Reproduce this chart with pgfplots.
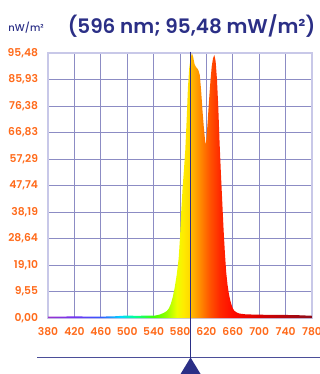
\documentclass[border=0pt]{standalone}
\usepackage{fontspec}
\setmainfont{Poppins}
\newfontfamily\medfont{Poppins Medium}
\newfontfamily\sbfont{Poppins SemiBold}
\usepackage{pgfplots}
\pgfplotsset{compat=1.18}
\definecolor{navy}{RGB}{43,47,134}
\definecolor{tickorange}{RGB}{255,106,26}
\definecolor{gridc}{RGB}{140,140,196}
\definecolor{framec}{RGB}{200,200,232}
\pgfdeclarehorizontalshading{spectrum}{100bp}{%
rgb(0bp)=(0.6,0.2,0.8);
rgb(25bp)=(0.6,0.2,0.8);
rgb(30bp)=(0.45,0.2,0.95);
rgb(35bp)=(0.2,0.35,1);
rgb(38.75bp)=(0,0.85,1);
rgb(41.25bp)=(0,1,0.6);
rgb(45bp)=(0.25,1,0);
rgb(47.5bp)=(0.6,1,0);
rgb(49.375bp)=(0.93,1,0);
rgb(50.625bp)=(1,0.92,0);
rgb(51.875bp)=(1,0.85,0);
rgb(52.125bp)=(1,0.72,0);
rgb(53.75bp)=(1,0.55,0);
rgb(55.625bp)=(1,0.33,0);
rgb(57.5bp)=(1,0.16,0);
rgb(60bp)=(1,0.04,0);
rgb(65bp)=(0.85,0,0);
rgb(75bp)=(0.55,0.05,0.1);
rgb(100bp)=(0.55,0.05,0.1)}
\begin{document}
\begin{tikzpicture}
\useasboundingbox (0,0) rectangle (320bp,374bp);
\begin{axis}[
  at={(48bp,56bp)}, anchor=south west,
  scale only axis, width=264bp, height=265bp,
  xmin=380, xmax=780, ymin=0, ymax=95.48,
  xtick={380,420,...,780},
  xticklabels={380,420,460,500,540,580,620,660,700,740,780},
  ytick={0,9.548,19.096,28.644,38.192,47.74,57.288,66.836,76.384,85.932,95.48},
  yticklabels={{0,00},{9,55},{19,10},{28,64},{38,19},{47,74},{57,29},{66,83},{76,38},{85,93},{95,48}},
  grid=major,
  major grid style={draw=gridc, line width=0.7bp},
  axis line style={draw=framec, line width=1.2bp},
  major tick length=0pt,
  tick style={draw=none},
  tick label style={font=\sbfont\fontsize{10.8}{13}\selectfont, text=tickorange},
  yticklabel style={inner sep=0pt, xshift=-9.7bp},
  xticklabel style={inner sep=0pt, yshift=-9bp},
  clip=false,
  axis on top=false,
]
\addplot[draw=none, shade, shading=spectrum] coordinates {
(380,0.5) (400,0.5) (420,0.6) (440,0.5) (460,0.5) (480,0.6) (500,0.9) (510,0.8)
(520,0.8) (530,0.9) (540,0.8) (545,1.0) (550,1.3) (555,1.8) (560,2.5) (563,3.4)
(566,5.0) (569,7.5) (572,11.0) (575,15.5) (578,21.5) (580,29) (582,39) (584,47)
(586,53.5) (588,60.5) (590,71) (592,83) (594,90) (596,93.5) (598,95.48) (600,94)
(602,91.5) (604,90.5) (606,90) (608,89.2) (610,87.5) (612,82) (614,75) (616,69)
(618,64) (619,62.3) (620,64.5) (622,71) (624,78.5) (626,85) (628,90.5) (630,93.5)
(632,94.8) (634,92.5) (636,86) (638,76) (640,63) (642,52) (644,42) (646,32)
(648,23.5) (650,16.5) (652,12) (654,8.8) (656,6.5) (658,4.8) (660,3.5) (662,2.7)
(665,2.1) (670,1.6) (680,1.3) (700,1.2) (720,1.1) (740,1.1) (760,1.0) (780,0.8)
} \closedcycle;
\coordinate (mtop) at (axis cs:596,95.48);
\end{axis}
\draw[navy!85!white, line width=1.5bp] (37bp,16.7bp) -- (320bp,16.7bp);
\draw[navy, line width=1.8bp] ([yshift=1.5bp]mtop) -- (mtop |- 0,0);
\fill[navy] (mtop |- 0,16.5bp) -- ([xshift=-10bp]mtop |- 0,0) -- ([xshift=10bp]mtop |- 0,0) -- cycle;
\node[anchor=base, text=navy, font=\sbfont\fontsize{20}{23}\selectfont, inner sep=0pt] at (191.5bp,340.7bp) {(596 nm; 95,48 mW/m²)};
\node[anchor=base west, text=navy, font=\medfont\fontsize{10}{12}\selectfont, inner sep=0pt] at (8.3bp,342.5bp) {nW/m²};
\end{tikzpicture}
\end{document}
